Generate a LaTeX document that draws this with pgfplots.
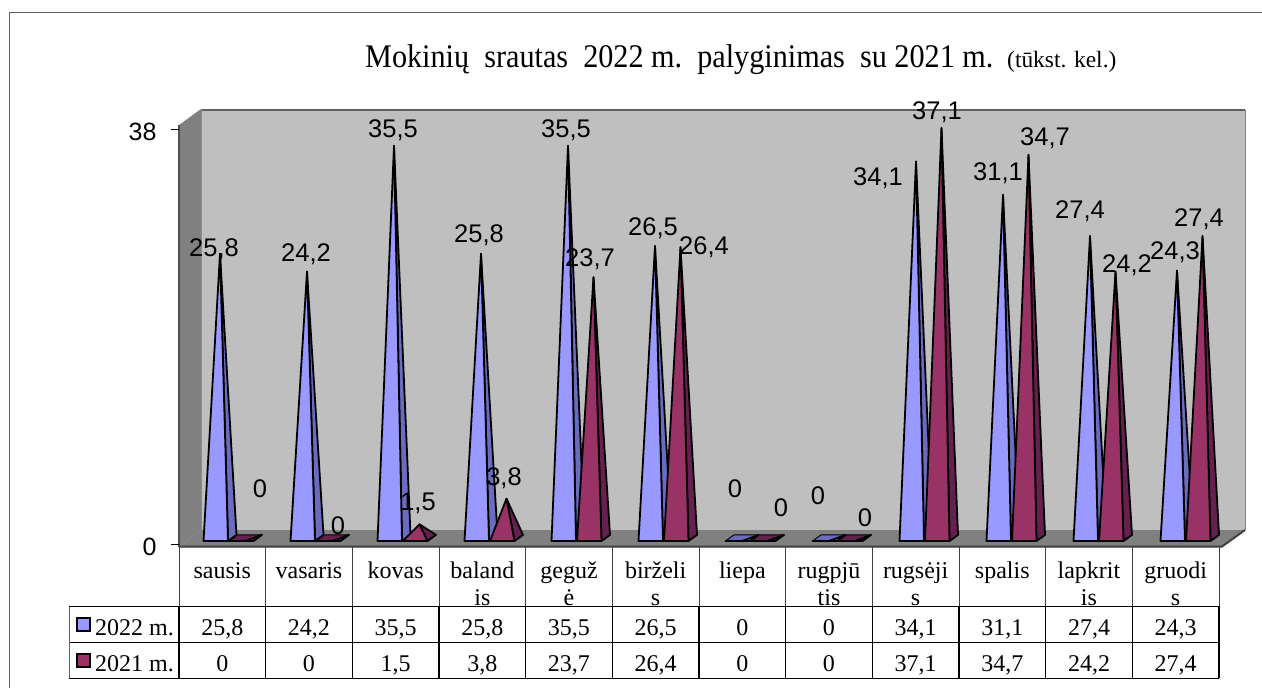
\documentclass[border=0pt]{standalone}
\usepackage{fontspec}
\usepackage{graphicx}
\usepackage{xfp}
\usepackage{pgfplots}
\pgfplotsset{compat=1.18}
\setmainfont{Liberation Serif}
\newfontfamily\arial{Liberation Sans}
\definecolor{bluef}{HTML}{9999FF}
\definecolor{blues}{HTML}{6B6BC0}
\definecolor{redf}{HTML}{993366}
\definecolor{reds}{HTML}{662050}
\newcommand\fs[1]{\fontsize{#1}{#1}\selectfont}
\newcommand\pyr[5]{%
  \edef\xc{\fpeval{#1+#3/87}}%
  \edef\xl{\fpeval{\xc-16.5/87}}%
  \edef\xr{\fpeval{\xc+16.5/87}}%
  \edef\xf{\fpeval{\xc+8/87}}%
  \edef\xb{\fpeval{\xc-8/87}}%
  \addplot[fill=#5,draw=black,line width=0.9pt,line join=round] coordinates {(\xl,0)(\xf,0)(\xr,0.55)(\xb,0.55)} --cycle;
  \addplot[fill=#5,draw=black,line width=1.8pt,line join=round] coordinates {(\xf,0)(\xr,0.55)(\xc,#2)} --cycle;
  \addplot[fill=#4,draw=black,line width=1.8pt,line join=round] coordinates {(\xl,0)(\xf,0)(\xc,#2)} --cycle;
}
\newcommand\A[2]{\pyr{#1}{#2}{0}{bluef}{blues}}
\newcommand\B[2]{\pyr{#1}{#2}{25.5}{redf}{reds}}
\begin{document}
\begin{tikzpicture}
\path[use as bounding box] (0,0) rectangle (1262pt,-688pt);
\begin{scope}[x=1pt,y=-1pt]
  \fill[white] (0,0) rectangle (1262,688);
  \draw[line width=1.3pt,black!62] (9.5,688) -- (9.5,12.5) -- (1262,12.5);
  \fill[black!25] (201,110) rectangle (1245,530);
  \fill[black!50] (179,125) -- (201,109) -- (201,530) -- (179,547) -- cycle;
  \fill[black!50] (179,547) -- (201,530) -- (1245,530) -- (1222,547) -- cycle;
  \draw[line width=1.6pt,black!62] (201,110) -- (1245,110);
  \draw[line width=1pt,black!50] (1245,110) -- (1245,530);
  \draw[line width=1.2pt,black!70] (179,547) -- (179,125);
  \draw[line width=1pt,black!45] (201,109) -- (201,530);
  \draw[line width=2pt,black!75] (179,546.5) -- (1222,546.5) -- (1245,530);
\end{scope}
\begin{axis}[at={(179pt,-544pt)},anchor=south west,scale only axis,width=1040pt,height=415pt,
  xmin=0.5,xmax=12.5,ymin=0,ymax=38,clip=false,
  axis line style={draw=none},
  ytick={0,38},ytick pos=left,tick align=outside,
  major tick length=8pt,
  ytick style={black,line width=0.8pt},
  xtick={1,...,12},
  xtick style={draw=none},
  xticklabels={\strut sausis,\strut vasaris,\strut kovas,{\strut baland\\is},{\strut geguž\\ė},{\strut birželi\\s},\strut liepa,{\strut rugpjū\\tis},{\strut rugsėji\\s},\strut spalis,{\strut lapkrit\\is},{\strut gruodi\\s}},
  x tick label style={align=center,font=\fontsize{24}{27}\selectfont,anchor=north,inner sep=0pt,yshift=-7pt},
  y tick label style={font=\arial\fs{25},/pgf/number format/assume math mode=true,xshift=-11pt,yshift=-3pt},
]
\end{axis}
\begin{axis}[at={(179pt,-541pt)},anchor=south west,scale only axis,width=1040pt,height=423pt,
  xmin=0.5287,xmax=12.4828,ymin=0,ymax=38,clip=false,hide axis]
\A{1}{25.8}\B{1}{0}
\A{2}{24.2}\B{2}{0}
\A{3}{35.5}\B{3}{1.5}
\A{4}{25.8}\B{4}{3.8}
\A{5}{35.5}\B{5}{23.7}
\A{6}{26.5}\B{6}{26.4}
\A{7}{0}\B{7}{0}
\A{8}{0}\B{8}{0}
\A{9}{34.1}\B{9}{37.1}
\A{10}{31.1}\B{10}{34.7}
\A{11}{27.4}\B{11}{24.2}
\A{12}{24.3}\B{12}{27.4}
\end{axis}
\begin{scope}[x=1pt,y=-1pt]
  \foreach \x/\y/\t in {214/247/{25,8},306/252/{24,2},393/128/{35,5},479/233/{25,8},566/128/{35,5},653/226/{26,5},735/488/0,781/507/0,818/495/0,865/517/0,878/176/{34,1},998/171/{31,1},1080/209/{27,4},1175/250/{24,3},
    260/488/0,338/525/0,418/501/{1,5},504/476/{3,8},590/257/{23,7},704/245/{26,4},937/110/{37,1},1045/136/{34,7},1127/263/{24,2},1199/217/{27,4}}
    \node[anchor=base,inner sep=0pt,font=\arial\fs{25.5}] at (\x,\y+9) {\t};
  \draw[line width=1pt,black] (69,606.5) -- (1219,606.5) (69,642.5) -- (1219,642.5) (69,678) -- (1219,678);
  \draw[line width=1pt,black!60] (69,606.5) -- (69,678);
  \foreach \k in {0,...,12} {
    \draw[line width=1pt,black!75] ({179+86.67*\k},547) -- ({179+86.67*\k},606);
    \draw[line width=1.3pt,black] ({179+86.67*\k},606) -- ({179+86.67*\k},678);
  }
  \foreach \k/\a/\b in {0/{25,8}/0,1/{24,2}/0,2/{35,5}/{1,5},3/{25,8}/{3,8},4/{35,5}/{23,7},5/{26,5}/{26,4},6/0/0,7/0/0,8/{34,1}/{37,1},9/{31,1}/{34,7},10/{27,4}/{24,2},11/{24,3}/{27,4}} {
    \node[anchor=base,inner sep=0pt,font=\fs{24}] at ({179+43.3+86.67*\k},635) {\a};
    \node[anchor=base,inner sep=0pt,font=\fs{24}] at ({179+43.3+86.67*\k},671) {\b};
  }
  \fill[bluef,draw=black,line width=1.7pt] (77,618) rectangle (90,631);
  \fill[redf,draw=black,line width=1.7pt] (77,654) rectangle (90,667);
  \node[anchor=base west,inner sep=0pt,font=\fs{24}] at (95,635) {2022 m.};
  \node[anchor=base west,inner sep=0pt,font=\fs{24}] at (95,671) {2021 m.};
  \node[anchor=base west,inner sep=0pt,font=\fs{33}] at (365,67) {\scalebox{0.915}[1]{Mokinių\ \ srautas\ \ 2022 m.\ \ palyginimas\ \ su 2021 m.}};
  \node[anchor=base west,inner sep=0pt,font=\fs{23.4}] at (1007,67) {(tūkst. kel.)};
\end{scope}
\end{tikzpicture}
\end{document}
